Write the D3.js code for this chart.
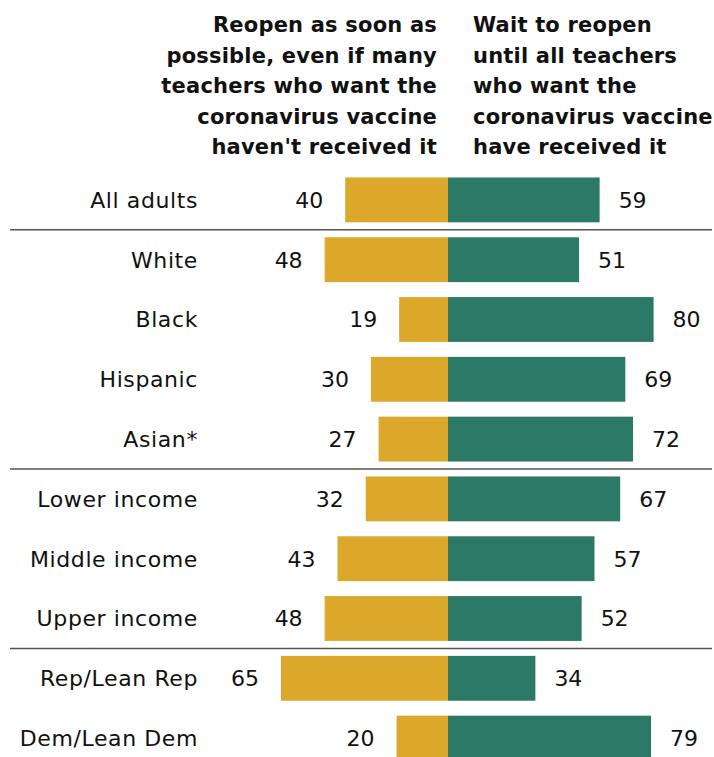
<!DOCTYPE html>
<html>
<head>
<meta charset="utf-8">
<script src="https://cdnjs.cloudflare.com/ajax/libs/d3/7.8.5/d3.min.js"></script>
<style>
  body { margin: 0; background: #fff; }
  text { font-family: "DejaVu Sans", sans-serif; fill: #111; }
</style>
</head>
<body>
<svg width="714" height="757"></svg>
<script>
var categories = ['All adults', 'White', 'Black', 'Hispanic', 'Asian*',
  'Lower income', 'Middle income', 'Upper income', 'Rep/Lean Rep', 'Dem/Lean Dem'];
var reopenNow = [40, 48, 19, 30, 27, 32, 43, 48, 65, 20];
var waitVaccine = [59, 51, 80, 69, 72, 67, 57, 52, 34, 79];
var separatorsAfter = ['All adults', 'Asian*', 'Upper income'];
var leftHeader = ['Reopen as soon as', 'possible, even if many', 'teachers who want the',
  'coronavirus vaccine', "haven't received it"];
var rightHeader = ['Wait to reopen', 'until all teachers', 'who want the',
  'coronavirus vaccine', 'have received it'];

var svg = d3.select('svg');
var center = 448;
var gold = '#dba82c';
var teal = '#2c7966';

var x = d3.scaleLinear().domain([0, 100]).range([0, 257]);
var y = d3.scaleBand().domain(categories).range([170, 768]).paddingInner(0.25).paddingOuter(0.125);

// column headers
svg.append('g').selectAll('text')
  .data(leftHeader)
  .enter()
  .append('text')
  .attr('x', 437)
  .attr('y', function(d, i) { return 32 + i * 30.5; })
  .attr('text-anchor', 'end')
  .attr('font-size', 21)
  .attr('font-weight', 'bold')
  .attr('letter-spacing', 0.2)
  .text(function(d) { return d; });

svg.append('g').selectAll('text')
  .data(rightHeader)
  .enter()
  .append('text')
  .attr('x', 473)
  .attr('y', function(d, i) { return 32 + i * 30.5; })
  .attr('font-size', 21)
  .attr('font-weight', 'bold')
  .attr('letter-spacing', 0.2)
  .text(function(d) { return d; });

var rows = svg.append('g').selectAll('g')
  .data(categories)
  .enter()
  .append('g')
  .attr('transform', function(d) { return 'translate(0,' + y(d) + ')'; });

rows.append('rect')
  .attr('x', function(d, i) { return center - x(reopenNow[i]); })
  .attr('width', function(d, i) { return x(reopenNow[i]); })
  .attr('height', y.bandwidth())
  .attr('fill', gold);

rows.append('rect')
  .attr('x', center)
  .attr('width', function(d, i) { return x(waitVaccine[i]); })
  .attr('height', y.bandwidth())
  .attr('fill', teal);

var mid = y.bandwidth() / 2 + 8;

rows.append('text')
  .attr('x', 198)
  .attr('y', mid)
  .attr('text-anchor', 'end')
  .attr('font-size', 22)
  .attr('letter-spacing', 0.6)
  .text(function(d) { return d; });

rows.append('text')
  .attr('x', function(d, i) { return center - x(reopenNow[i]) - 22; })
  .attr('y', mid)
  .attr('text-anchor', 'end')
  .attr('font-size', 22)
  .text(function(d, i) { return reopenNow[i]; });

rows.append('text')
  .attr('x', function(d, i) { return center + x(waitVaccine[i]) + 19; })
  .attr('y', mid)
  .attr('font-size', 22)
  .text(function(d, i) { return waitVaccine[i]; });

// group separators
svg.append('g').selectAll('line')
  .data(separatorsAfter)
  .enter()
  .append('line')
  .attr('x1', 10)
  .attr('x2', 712)
  .attr('y1', function(d) { return y(d) + y.bandwidth() + y.step() * y.paddingInner() / 2; })
  .attr('y2', function(d) { return y(d) + y.bandwidth() + y.step() * y.paddingInner() / 2; })
  .attr('stroke', '#555')
  .attr('stroke-width', 1.5);
</script>
</body>
</html>
